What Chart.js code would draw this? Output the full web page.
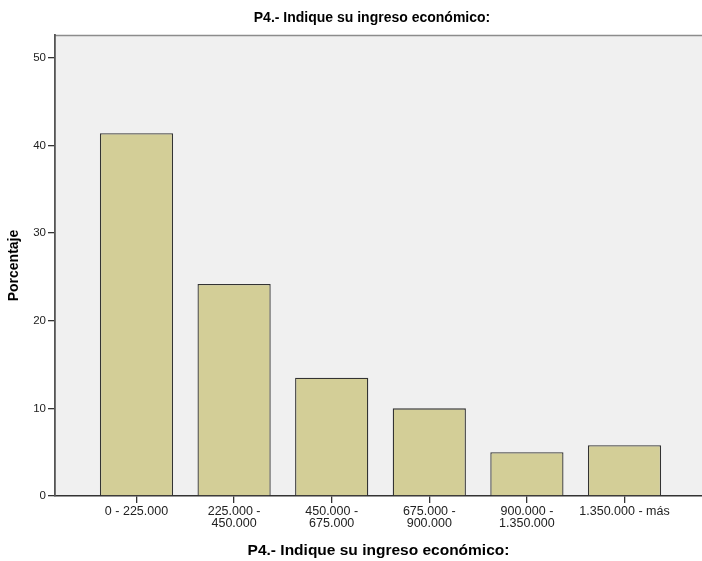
<!DOCTYPE html>
<html>
<head>
<meta charset="utf-8">
<script src="https://cdn.jsdelivr.net/npm/chart.js@4/dist/chart.umd.min.js"></script>
<style>
  html, body { margin: 0; padding: 0; background: #ffffff; }
  #wrap { width: 702px; height: 561px; position: relative; }
</style>
</head>
<body>
<div id="wrap"><canvas id="c"></canvas></div>
<script>
const categories = [
  ["0 - 225.000"],
  ["225.000 -", "450.000"],
  ["450.000 -", "675.000"],
  ["675.000 -", "900.000"],
  ["900.000 -", "1.350.000"],
  ["1.350.000 - más"]
];
const porcentaje = [41.4, 24.2, 13.5, 10.0, 5.0, 5.8];
const yTicks = [0, 10, 20, 30, 40, 50];
const chartTitle = "P4.- Indique su ingreso económico:";
const xTitle = "P4.- Indique su ingreso económico:";
const yTitle = "Porcentaje";

const FONT = "'Liberation Sans', Arial, sans-serif";

const plotBg = {
  id: 'plotBg',
  beforeDraw(chart) {
    const {ctx, chartArea: a} = chart;
    ctx.save();
    ctx.fillStyle = '#f0f0f0';
    ctx.fillRect(a.left, a.top, a.right - a.left, a.bottom - a.top);
    ctx.strokeStyle = '#8c8c8c';
    ctx.lineWidth = 1.5;
    ctx.beginPath();
    ctx.moveTo(a.left, a.top + 0.5);
    ctx.lineTo(a.right, a.top + 0.5);
    ctx.stroke();
    ctx.restore();
  },
  afterDraw(chart) {
    const {ctx} = chart;
    ctx.save();
    ctx.fillStyle = '#000';
    ctx.font = "bold 14px " + FONT;
    ctx.textAlign = 'center';
    ctx.textBaseline = 'middle';
    ctx.fillText(chartTitle, 372, 18);
    ctx.restore();
  }
};

new Chart(document.getElementById('c'), {
  type: 'bar',
  data: {
    datasets: [{
      data: porcentaje.map((v, i) => ({ x: i + 1, y: v })),
      backgroundColor: '#d3ce97',
      borderColor: '#333333',
      borderWidth: 1.3,
      categoryPercentage: 1,
      barPercentage: 0.75
    }]
  },
  options: {
    responsive: true,
    maintainAspectRatio: false,
    animation: false,
    devicePixelRatio: 1,
    layout: { padding: { left: 0, right: 0, top: 35, bottom: 0 } },
    plugins: {
      legend: { display: false },
      tooltip: { enabled: false },
      title: { display: false }
    },
    scales: {
      x: {
        type: 'linear',
        offset: false,
        min: 0.165,
        max: 6.794,
        afterBuildTicks(axis) {
          axis.ticks = categories.map((c, i) => ({ value: i + 1 }));
        },
        afterFit(axis) { axis.height = 65; },
        ticks: {
          autoSkip: false,
          maxRotation: 0,
          color: '#222',
          padding: 3,
          font: { family: FONT, size: 12.5, lineHeight: 0.94 },
          callback(value) {
            const i = Math.round(value) - 1;
            return categories[i] || '';
          }
        },
        grid: {
          display: true,
          offset: false,
          drawOnChartArea: false,
          drawTicks: true,
          tickLength: 7,
          color: '#333',
          lineWidth: 1.3
        },
        border: { display: true, color: '#333', width: 1.5 },
        title: {
          display: true,
          text: xTitle,
          color: '#000',
          font: { family: FONT, size: 15.5, weight: 'bold' },
          padding: { top: 0, bottom: 1 }
        }
      },
      y: {
        type: 'linear',
        min: 0,
        max: 52.6,
        afterBuildTicks(axis) {
          axis.ticks = yTicks.map(v => ({ value: v }));
        },
        afterFit(axis) { axis.width = 55; },
        ticks: {
          color: '#222',
          padding: 2,
          font: { family: FONT, size: 11.5 }
        },
        grid: {
          display: true,
          drawOnChartArea: false,
          drawTicks: true,
          tickLength: 7,
          color: '#333',
          lineWidth: 1.3
        },
        border: { display: true, color: '#555', width: 1.8 },
        title: {
          display: true,
          text: yTitle,
          color: '#000',
          font: { family: FONT, size: 14, weight: 'bold' },
          padding: { top: 6, bottom: 0 }
        }
      }
    }
  },
  plugins: [plotBg]
});
</script>
</body>
</html>
